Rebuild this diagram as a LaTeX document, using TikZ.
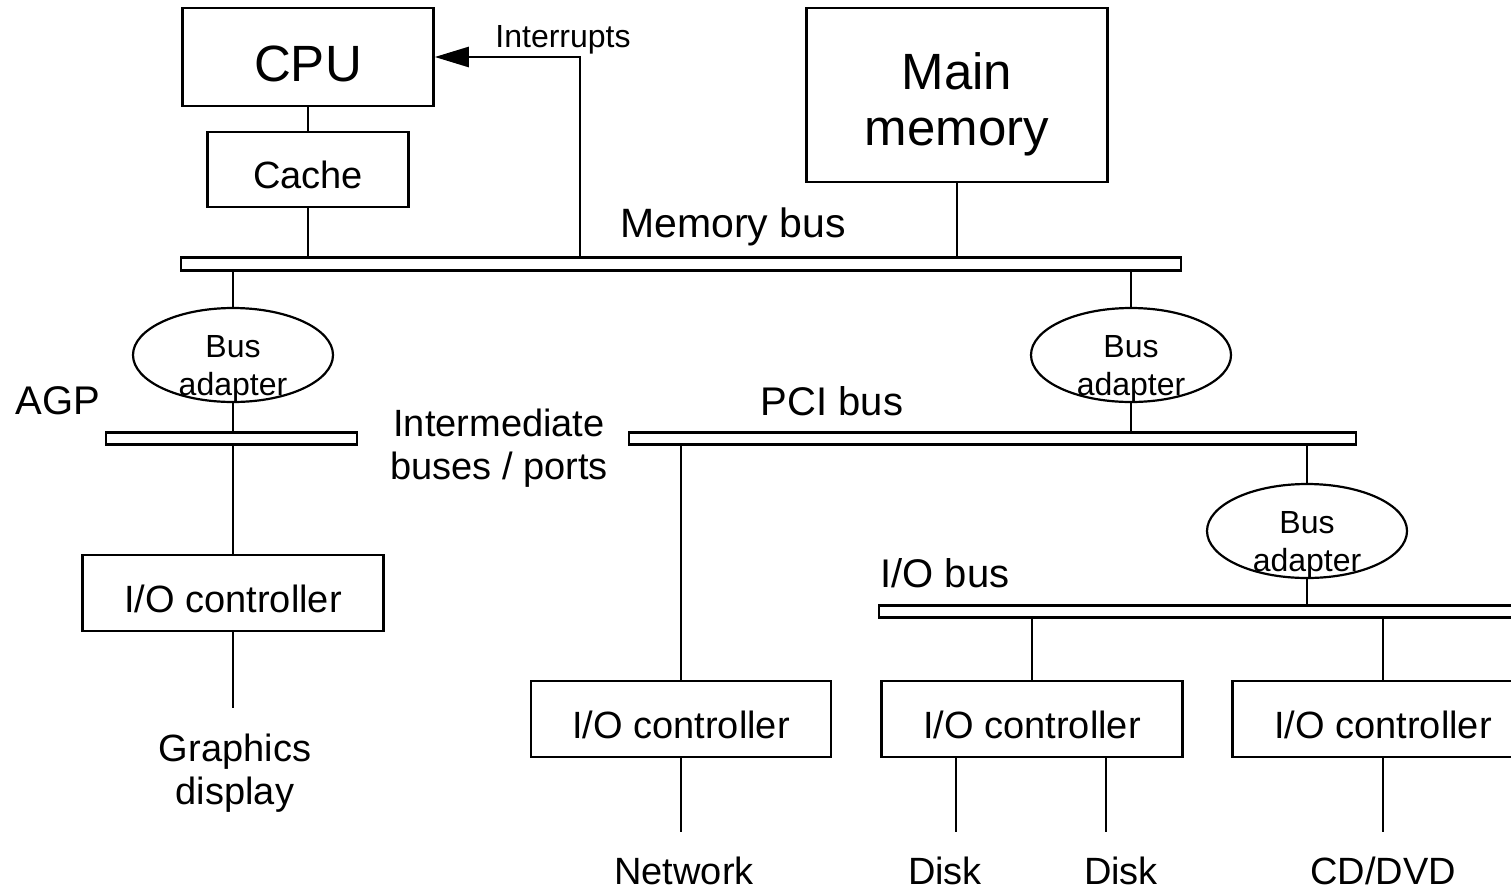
\documentclass[tikz,border=0pt]{standalone}
\usepackage{fontspec}
\setmainfont{Liberation Sans}
\usepackage{tikz}
\usetikzlibrary{arrows.meta,shapes.geometric,positioning,calc}

\tikzset{
  unit/.style={draw, rectangle, line width=2.6pt, inner sep=0pt, text height=#1, text depth=0pt},
  unit/.default=38pt,
  bus/.style={draw, rectangle, line width=2.6pt, inner sep=0pt, minimum height=12.5pt},
  adapter/.style={draw, ellipse, line width=2.2pt, inner sep=0pt, minimum width=200pt, minimum height=94pt},
  device/.style={txtmid, inner sep=0pt, anchor=base},
  txtbig/.style={font=\fontsize{51}{56}\selectfont},
  txtmid/.style={font=\fontsize{38}{43}\selectfont},
  txtbus/.style={font=\fontsize{40}{46}\selectfont},
  txtsmall/.style={font=\fontsize{32}{38}\selectfont},
}

\begin{document}
\begin{tikzpicture}[x=1pt, y=-1pt, line width=2.6pt]
    \useasboundingbox (0,0) rectangle (1511,889);
    \clip (0,0) rectangle (1511,889);

    % CPU, cache and main memory
    \node[unit=49pt, txtbig, minimum width=251, minimum height=98] (cpu) at (308, 57) {CPU};
    \node[unit, txtmid, minimum width=201, minimum height=75] (cache) at (308, 169.5) {Cache};
    \node[draw, rectangle, line width=2.6pt, minimum width=301, minimum height=174] (mem) at (957, 95) {};
    \node[txtbig, align=center] (memlbl) at ([yshift=-9pt]mem.center) {Main\\memory};
    \node[txtsmall] (irqlbl) at (563, 40) {Interrupts};

    % Memory bus
    \node[bus, minimum width=1000] (membus) at (681, 264) {};
    \node[txtbus, font=\fontsize{41}{46}\selectfont] (buslbl) at (733, 227) {Memory bus};
    \coordinate (irq) at (580, 258);

    \draw (cpu) -- (cache);
    \draw (cache) -- (cache |- membus.north);
    \draw (mem) -- (mem |- membus.north);
    \draw[-{Triangle[length=34pt, width=20pt]}] (irq) |- (cpu);

    % Bus adapters
    \node[adapter] (ba1) at (233, 355) {};
    \node[adapter] (ba2) at (1131, 355) {};
    \node[adapter] (ba3) at (1307, 531) {};
    \node[txtsmall, align=center] at ([yshift=-14pt]ba1.center) {Bus\\adapter};
    \node[txtsmall, align=center] at ([yshift=-14pt]ba2.center) {Bus\\adapter};
    \node[txtsmall, align=center] at ([yshift=-14pt]ba3.center) {Bus\\adapter};

    % AGP and PCI buses
    \node[bus, minimum width=251] (agpbus) at (231.5, 438.5) {};
    \node[bus, minimum width=727] (pcibus) at (992.5, 438.5) {};
    \node[txtbus] (agplbl) at (58, 401) {AGP};
    \node[txtbus] (pcilbl) at (832, 401) {PCI bus};
    \node[txtmid, align=center] (midlbl) at (499, 448) {Intermediate\\buses / ports};

    \draw (membus.south -| ba1) -- (ba1);
    \draw (ba1) -- (ba1 |- agpbus.north);
    \draw (membus.south -| ba2) -- (ba2);
    \draw (ba2) -- (ba2 |- pcibus.north);
    \draw (pcibus.south -| ba3) -- (ba3);

    % I/O bus
    \node[bus, minimum width=660] (iobus) at (1209, 611.5) {};
    \node[txtbus] (iolbl) at (945, 573) {I/O bus};
    \draw (ba3) -- (ba3 |- iobus.north);

    % I/O controllers
    \node[unit, txtmid, minimum width=301, minimum height=76] (ioa) at (233, 593) {I/O controller};
    \node[unit, txtmid, minimum width=300, minimum height=76] (ion) at (681, 719) {I/O controller};
    \node[unit, txtmid, minimum width=301, minimum height=76] (iod) at (1032, 719) {I/O controller};
    \node[unit, txtmid, minimum width=301, minimum height=76] (ioc) at (1383, 719) {I/O controller};

    \draw (agpbus.south -| ioa) -- (ioa);
    \draw (pcibus.south -| ion) -- (ion);
    \draw (iobus.south -| iod) -- (iod);
    \draw (iobus.south -| ioc) -- (ioc);

    % Devices
    \coordinate (gfxend) at (233, 708);
    \coordinate (netend) at (681, 832);
    \coordinate (disk1end) at (956, 832);
    \coordinate (disk2end) at (1106, 832);
    \coordinate (cdend) at (1383, 832);
    \node[txtmid, align=center] (gfx) at (235, 773) {Graphics\\display};
    \node[device] (net) at (684, 884) {Network};
    \node[device] (disk1) at (945, 884) {Disk};
    \node[device] (disk2) at (1121, 884) {Disk};
    \node[device] (cd) at (1383, 884) {CD/DVD};

    \draw (ioa) -- (gfxend);
    \draw (ion) -- (netend);
    \draw (disk1end |- iod.south) -- (disk1end);
    \draw (disk2end |- iod.south) -- (disk2end);
    \draw (ioc) -- (cdend);
\end{tikzpicture}
\end{document}
